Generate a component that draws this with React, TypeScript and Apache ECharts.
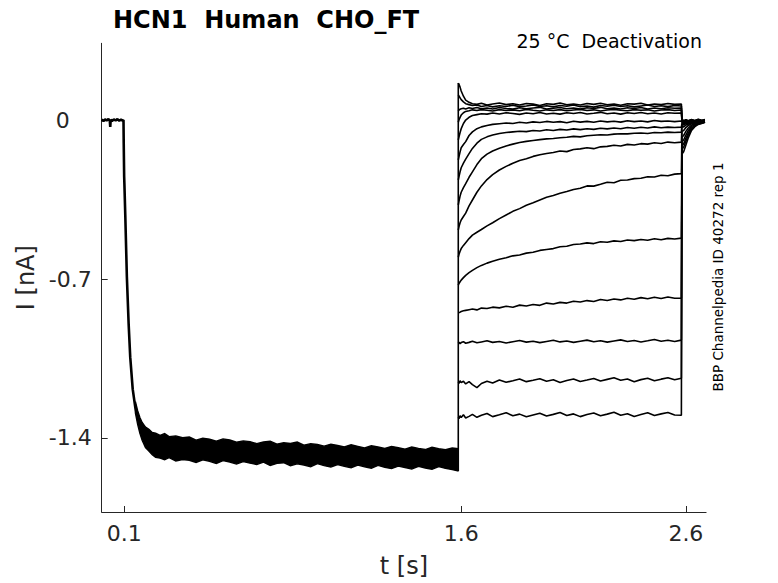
import React, { useEffect, useRef } from "react";
import * as echarts from "echarts";

// ---- holding + activation onset (shared by all sweeps) ----
const HOLD_T = [0.000, 0.008, 0.015, 0.022, 0.030, 0.036, 0.038, 0.040, 0.046, 0.054, 0.062, 0.070, 0.078, 0.086, 0.093, 0.097, 0.098, 0.100, 0.101, 0.105, 0.112, 0.120, 0.127, 0.138, 0.149, 0.155];
const HOLD_I = [0.002, -0.004, 0.003, -0.002, 0.004, -0.003, -0.030, 0.001, -0.004, 0.003, -0.002, 0.004, -0.003, 0.002, -0.002, 0.000, -0.100, -0.250, -0.280, -0.420, -0.690, -0.900, -1.044, -1.185, -1.262, -1.290];

// ---- overlapping activation plateau (envelope of all sweeps) ----
const BAND_T = [0.150, 0.160, 0.170, 0.180, 0.195, 0.210, 0.225, 0.240, 0.260, 0.280, 0.300, 0.330, 0.360, 0.390, 0.420, 0.450, 0.480, 0.510, 0.540, 0.570, 0.600, 0.630, 0.660, 0.690, 0.720, 0.750, 0.780, 0.810, 0.840, 0.870, 0.900, 0.930, 0.960, 0.990, 1.020, 1.050, 1.080, 1.110, 1.140, 1.170, 1.200, 1.230, 1.260, 1.290, 1.320, 1.350, 1.380, 1.410, 1.440, 1.470, 1.500, 1.530, 1.560, 1.585];
const BAND_UPPER = [-1.240, -1.280, -1.310, -1.332, -1.352, -1.362, -1.376, -1.379, -1.389, -1.381, -1.394, -1.391, -1.399, -1.396, -1.410, -1.401, -1.405, -1.414, -1.404, -1.409, -1.419, -1.413, -1.416, -1.425, -1.418, -1.414, -1.427, -1.421, -1.424, -1.418, -1.432, -1.425, -1.429, -1.436, -1.427, -1.433, -1.439, -1.430, -1.437, -1.444, -1.434, -1.440, -1.446, -1.437, -1.443, -1.449, -1.440, -1.446, -1.451, -1.441, -1.447, -1.452, -1.444, -1.447];
const BAND_LOWER = [-1.290, -1.340, -1.380, -1.410, -1.442, -1.458, -1.474, -1.485, -1.489, -1.496, -1.487, -1.501, -1.495, -1.498, -1.508, -1.496, -1.503, -1.512, -1.500, -1.506, -1.515, -1.504, -1.511, -1.517, -1.506, -1.521, -1.512, -1.509, -1.522, -1.514, -1.519, -1.527, -1.513, -1.522, -1.528, -1.517, -1.525, -1.531, -1.519, -1.527, -1.533, -1.521, -1.529, -1.535, -1.524, -1.530, -1.537, -1.525, -1.532, -1.538, -1.526, -1.534, -1.539, -1.545];

// ---- deactivation step (one row per sweep) ----
const STEP_ON_T = 1.587;
const DEACT_T = [1.587, 1.590, 1.595, 1.600, 1.610, 1.620, 1.635, 1.650, 1.670, 1.690, 1.715, 1.740, 1.770, 1.800, 1.830, 1.860, 1.890, 1.920, 1.950, 1.980, 2.010, 2.040, 2.070, 2.100, 2.130, 2.160, 2.190, 2.220, 2.250, 2.280, 2.310, 2.340, 2.370, 2.400, 2.430, 2.460, 2.490, 2.520, 2.550, 2.580];
const DEACT_1 = [0.163, 0.158, 0.145, 0.128, 0.105, 0.088, 0.078, 0.072, 0.069, 0.074, 0.066, 0.071, 0.075, 0.068, 0.072, 0.066, 0.073, 0.070, 0.064, 0.072, 0.069, 0.075, 0.067, 0.071, 0.066, 0.073, 0.069, 0.074, 0.067, 0.071, 0.065, 0.072, 0.070, 0.074, 0.066, 0.071, 0.068, 0.073, 0.069, 0.071];
const DEACT_2 = [0.110, 0.106, 0.098, 0.090, 0.080, 0.072, 0.068, 0.064, 0.066, 0.060, 0.064, 0.058, 0.063, 0.060, 0.065, 0.059, 0.062, 0.066, 0.060, 0.063, 0.058, 0.064, 0.061, 0.066, 0.059, 0.062, 0.057, 0.064, 0.061, 0.065, 0.060, 0.063, 0.058, 0.062, 0.066, 0.060, 0.063, 0.059, 0.064, 0.062];
const DEACT_3 = [0.040, 0.044, 0.048, 0.050, 0.052, 0.049, 0.054, 0.051, 0.055, 0.050, 0.053, 0.049, 0.055, 0.051, 0.048, 0.054, 0.050, 0.053, 0.056, 0.049, 0.052, 0.055, 0.050, 0.053, 0.048, 0.054, 0.051, 0.056, 0.050, 0.053, 0.049, 0.054, 0.051, 0.055, 0.049, 0.053, 0.050, 0.054, 0.052, 0.053];
const DEACT_4 = [-0.010, 0.000, 0.012, 0.022, 0.032, 0.038, 0.041, 0.045, 0.042, 0.046, 0.043, 0.040, 0.046, 0.042, 0.045, 0.041, 0.047, 0.043, 0.040, 0.045, 0.042, 0.046, 0.041, 0.044, 0.047, 0.042, 0.045, 0.040, 0.044, 0.047, 0.043, 0.041, 0.046, 0.043, 0.045, 0.040, 0.044, 0.046, 0.042, 0.044];
const DEACT_5 = [-0.088, -0.075, -0.055, -0.038, -0.015, 0.000, 0.012, 0.020, 0.024, 0.028, 0.026, 0.031, 0.027, 0.032, 0.029, 0.025, 0.031, 0.028, 0.033, 0.027, 0.030, 0.026, 0.032, 0.029, 0.033, 0.027, 0.030, 0.034, 0.028, 0.031, 0.026, 0.032, 0.029, 0.033, 0.028, 0.031, 0.027, 0.032, 0.030, 0.031];
const DEACT_6 = [-0.176, -0.162, -0.140, -0.122, -0.108, -0.095, -0.068, -0.052, -0.038, -0.030, -0.024, -0.019, -0.016, -0.013, -0.015, -0.010, -0.013, -0.008, -0.011, -0.006, -0.010, -0.007, -0.012, -0.005, -0.009, -0.006, -0.010, -0.004, -0.008, -0.005, -0.009, -0.003, -0.007, -0.004, -0.008, -0.002, -0.006, -0.004, -0.007, -0.004];
const DEACT_7 = [-0.264, -0.250, -0.228, -0.210, -0.190, -0.172, -0.148, -0.125, -0.102, -0.085, -0.074, -0.066, -0.059, -0.055, -0.052, -0.049, -0.051, -0.046, -0.048, -0.043, -0.046, -0.041, -0.044, -0.039, -0.042, -0.038, -0.041, -0.036, -0.039, -0.035, -0.038, -0.033, -0.036, -0.032, -0.035, -0.030, -0.034, -0.031, -0.033, -0.031];
const DEACT_8 = [-0.374, -0.358, -0.335, -0.318, -0.298, -0.280, -0.252, -0.228, -0.196, -0.170, -0.150, -0.136, -0.124, -0.114, -0.106, -0.099, -0.094, -0.090, -0.086, -0.083, -0.081, -0.078, -0.076, -0.072, -0.074, -0.069, -0.067, -0.065, -0.066, -0.062, -0.060, -0.061, -0.058, -0.057, -0.059, -0.055, -0.056, -0.053, -0.055, -0.053];
const DEACT_9 = [-0.485, -0.470, -0.452, -0.440, -0.425, -0.410, -0.378, -0.352, -0.318, -0.290, -0.262, -0.240, -0.220, -0.204, -0.190, -0.178, -0.170, -0.160, -0.153, -0.147, -0.143, -0.136, -0.139, -0.130, -0.127, -0.122, -0.126, -0.118, -0.116, -0.111, -0.114, -0.107, -0.110, -0.104, -0.106, -0.100, -0.103, -0.097, -0.100, -0.097];
const DEACT_10 = [-0.604, -0.592, -0.578, -0.566, -0.552, -0.540, -0.522, -0.507, -0.494, -0.482, -0.466, -0.452, -0.434, -0.418, -0.402, -0.390, -0.375, -0.364, -0.352, -0.340, -0.332, -0.322, -0.315, -0.306, -0.300, -0.290, -0.291, -0.283, -0.274, -0.276, -0.265, -0.264, -0.258, -0.256, -0.250, -0.251, -0.243, -0.245, -0.238, -0.236];
const DEACT_11 = [-0.727, -0.720, -0.712, -0.705, -0.694, -0.684, -0.672, -0.662, -0.650, -0.640, -0.630, -0.622, -0.613, -0.606, -0.598, -0.594, -0.586, -0.582, -0.574, -0.570, -0.566, -0.558, -0.556, -0.548, -0.546, -0.541, -0.544, -0.536, -0.538, -0.532, -0.535, -0.528, -0.531, -0.526, -0.529, -0.523, -0.527, -0.521, -0.524, -0.520];
const DEACT_12 = [-0.850, -0.848, -0.846, -0.843, -0.840, -0.838, -0.835, -0.832, -0.836, -0.828, -0.830, -0.824, -0.827, -0.820, -0.824, -0.815, -0.819, -0.812, -0.816, -0.806, -0.810, -0.803, -0.806, -0.798, -0.801, -0.795, -0.799, -0.790, -0.795, -0.788, -0.792, -0.785, -0.789, -0.782, -0.787, -0.780, -0.786, -0.779, -0.785, -0.784];
const DEACT_13 = [-0.982, -0.978, -0.985, -0.980, -0.976, -0.983, -0.979, -0.974, -0.981, -0.977, -0.972, -0.979, -0.975, -0.982, -0.976, -0.971, -0.978, -0.974, -0.980, -0.975, -0.970, -0.977, -0.973, -0.979, -0.974, -0.969, -0.976, -0.972, -0.978, -0.973, -0.968, -0.975, -0.971, -0.977, -0.972, -0.966, -0.974, -0.970, -0.975, -0.969];
const DEACT_14 = [-1.154, -1.160, -1.148, -1.156, -1.150, -1.162, -1.152, -1.165, -1.178, -1.160, -1.150, -1.158, -1.145, -1.155, -1.148, -1.140, -1.152, -1.146, -1.139, -1.150, -1.144, -1.156, -1.147, -1.140, -1.151, -1.145, -1.138, -1.149, -1.142, -1.135, -1.146, -1.140, -1.152, -1.143, -1.137, -1.148, -1.141, -1.135, -1.144, -1.137];
const DEACT_15 = [-1.308, -1.315, -1.302, -1.310, -1.298, -1.312, -1.305, -1.296, -1.309, -1.300, -1.292, -1.306, -1.298, -1.289, -1.302, -1.295, -1.307, -1.299, -1.291, -1.303, -1.296, -1.288, -1.301, -1.294, -1.306, -1.297, -1.290, -1.302, -1.295, -1.287, -1.300, -1.293, -1.305, -1.297, -1.289, -1.301, -1.294, -1.288, -1.299, -1.300];

// ---- return to holding (tail currents) ----
const TAIL_T = [2.582, 2.5825, 2.590, 2.600, 2.610, 2.625, 2.640, 2.655, 2.670, 2.685];
const TAIL_1 = [0.071, 0.004, -0.003, 0.002, -0.004, 0.001, -0.002, 0.003, -0.001, 0.000];
const TAIL_2 = [0.062, 0.002, -0.005, 0.001, -0.003, 0.002, -0.004, 0.001, -0.002, 0.002];
const TAIL_3 = [0.053, 0.000, -0.006, -0.002, -0.005, 0.000, -0.003, 0.002, -0.003, -0.001];
const TAIL_4 = [0.044, -0.004, -0.008, -0.003, -0.006, -0.001, -0.005, 0.000, -0.004, -0.002];
const TAIL_5 = [0.031, -0.006, -0.010, -0.006, -0.008, -0.003, -0.006, -0.002, -0.005, -0.003];
const TAIL_6 = [-0.004, -0.010, -0.014, -0.010, -0.011, -0.006, -0.008, -0.004, -0.006, -0.004];
const TAIL_7 = [-0.031, -0.014, -0.018, -0.013, -0.013, -0.008, -0.010, -0.005, -0.007, -0.005];
const TAIL_8 = [-0.053, -0.020, -0.022, -0.016, -0.015, -0.010, -0.011, -0.006, -0.008, -0.006];
const TAIL_9 = [-0.097, -0.030, -0.030, -0.022, -0.019, -0.012, -0.012, -0.007, -0.009, -0.006];
const TAIL_10 = [-0.236, -0.050, -0.046, -0.033, -0.025, -0.016, -0.014, -0.009, -0.010, -0.007];
const TAIL_11 = [-0.520, -0.075, -0.068, -0.050, -0.036, -0.022, -0.017, -0.011, -0.011, -0.008];
const TAIL_12 = [-0.784, -0.095, -0.088, -0.066, -0.047, -0.028, -0.020, -0.013, -0.012, -0.008];
const TAIL_13 = [-0.969, -0.112, -0.105, -0.080, -0.058, -0.034, -0.023, -0.015, -0.013, -0.009];
const TAIL_14 = [-1.137, -0.128, -0.120, -0.093, -0.068, -0.040, -0.026, -0.017, -0.014, -0.010];
const TAIL_15 = [-1.300, -0.150, -0.140, -0.110, -0.080, -0.046, -0.029, -0.019, -0.015, -0.010];

const DEACT_SWEEPS = [DEACT_1, DEACT_2, DEACT_3, DEACT_4, DEACT_5, DEACT_6, DEACT_7, DEACT_8, DEACT_9, DEACT_10, DEACT_11, DEACT_12, DEACT_13, DEACT_14, DEACT_15];
const TAIL_SWEEPS = [TAIL_1, TAIL_2, TAIL_3, TAIL_4, TAIL_5, TAIL_6, TAIL_7, TAIL_8, TAIL_9, TAIL_10, TAIL_11, TAIL_12, TAIL_13, TAIL_14, TAIL_15];

// ---- axes ----
const X_TICKS = [0.1, 1.6, 2.6];
const Y_TICKS = [-1.4, -0.7, 0];
const X_MIN = 0;
const X_MAX = 2.69;
const Y_MIN = -1.726;
const Y_MAX = 0.338;

const TITLE = "HCN1  Human  CHO_FT";
const SUBTITLE = "25 °C  Deactivation";
const SIDE_NOTE = "BBP Channelpedia ID 40272 rep 1";

const FONT = "DejaVu Sans";
const INK = "#262626";

export default function App() {
  const ref = useRef<HTMLDivElement>(null);

  useEffect(() => {
    if (!ref.current) return;
    const chart = echarts.init(ref.current, null, { renderer: "svg" });

    const sweepSeries = DEACT_SWEEPS.map((vals, i) => {
      const data: number[][] = [];
      DEACT_T.forEach((t, j) => {
        if (vals[j] !== undefined) data.push([t, vals[j]]);
      });
      TAIL_T.forEach((t, j) => {
        if (TAIL_SWEEPS[i][j] !== undefined) data.push([t, TAIL_SWEEPS[i][j]]);
      });
      return {
        type: "line",
        name: "sweep " + (i + 1),
        data,
        showSymbol: false,
        symbol: "none",
        silent: true,
        lineStyle: { color: "#000", width: 1.6 },
        z: 3,
      };
    });

    const option: any = {
      animation: false,
      backgroundColor: "#fff",
      title: {
        text: TITLE,
        left: 108,
        top: 3,
        textStyle: { fontFamily: FONT, fontSize: 24, fontWeight: "bold", color: "#000" },
      },
      grid: { left: 101.7, top: 43.3, width: 604.4, height: 468.7, containLabel: false },
      xAxis: {
        type: "value",
        min: X_MIN,
        max: X_MAX,
        name: "t [s]",
        nameLocation: "middle",
        nameGap: 42,
        nameTextStyle: { fontFamily: FONT, fontSize: 24, color: INK },
        axisLine: { show: true, onZero: false, lineStyle: { color: INK, width: 1 } },
        axisTick: { show: true, inside: true, length: 6, customValues: X_TICKS, lineStyle: { color: INK } },
        axisLabel: {
          show: true,
          customValues: X_TICKS,
          margin: 10,
          fontFamily: FONT,
          fontSize: 22,
          color: INK,
          formatter: (v: number) => String(v),
        },
        splitLine: { show: false },
      },
      yAxis: {
        type: "value",
        min: Y_MIN,
        max: Y_MAX,
        name: "I [nA]",
        nameLocation: "middle",
        nameRotate: 90,
        nameGap: 59,
        nameTextStyle: { fontFamily: FONT, fontSize: 24, color: INK },
        axisLine: { show: true, onZero: false, lineStyle: { color: INK, width: 1 } },
        axisTick: { show: true, inside: true, length: 6, customValues: Y_TICKS, lineStyle: { color: INK } },
        axisLabel: {
          show: true,
          customValues: Y_TICKS,
          margin: 10,
          fontFamily: FONT,
          fontSize: 22,
          color: INK,
          formatter: (v: number) => (v === 0 ? "{z|0}" : String(v)),
          rich: { z: { fontFamily: FONT, fontSize: 22, color: INK, padding: [0, 22, 0, 0] } },
        },
        splitLine: { show: false },
      },
      graphic: [
        {
          type: "text",
          x: 702,
          y: 41,
          style: {
            text: SUBTITLE,
            fontFamily: FONT,
            fontSize: 19,
            fill: "#000",
            align: "right",
            verticalAlign: "middle",
          },
        },
        {
          type: "text",
          x: 717.5,
          y: 277,
          rotation: Math.PI / 2,
          style: {
            text: SIDE_NOTE,
            fontFamily: FONT,
            fontSize: 13.5,
            fill: "#000",
            align: "center",
            verticalAlign: "middle",
          },
        },
      ],
      series: [
        {
          type: "line",
          name: "holding + onset",
          data: HOLD_T.map((t, i) => [t, HOLD_I[i]]),
          showSymbol: false,
          symbol: "none",
          silent: true,
          lineStyle: { color: "#000", width: 2.6 },
          z: 3,
        },
        {
          type: "custom",
          name: "activation band",
          coordinateSystem: "cartesian2d",
          data: [[BAND_T[0], BAND_UPPER[0]]],
          encode: { x: 0, y: 1 },
          silent: true,
          z: 3,
          renderItem: (_params: any, api: any) => {
            const pts: number[][] = [];
            BAND_T.forEach((t, i) => pts.push(api.coord([t, BAND_UPPER[i]])));
            for (let i = BAND_T.length - 1; i >= 0; i--) pts.push(api.coord([BAND_T[i], BAND_LOWER[i]]));
            return {
              type: "polygon",
              shape: { points: pts },
              style: { fill: "#000", stroke: "#000", lineWidth: 1.4 },
            };
          },
        },
        {
          type: "line",
          name: "step",
          data: [
            [STEP_ON_T, BAND_LOWER[BAND_LOWER.length - 1]],
            [STEP_ON_T, DEACT_1[0]],
          ],
          showSymbol: false,
          symbol: "none",
          silent: true,
          lineStyle: { color: "#000", width: 1.6 },
          z: 3,
        },
        ...sweepSeries,
      ],
    };

    chart.setOption(option);
    return () => chart.dispose();
  }, []);

  return (
    <div
      ref={ref}
      style={{ position: "fixed", left: 0, top: 0, width: 778, height: 583, background: "#fff" }}
    />
  );
}
